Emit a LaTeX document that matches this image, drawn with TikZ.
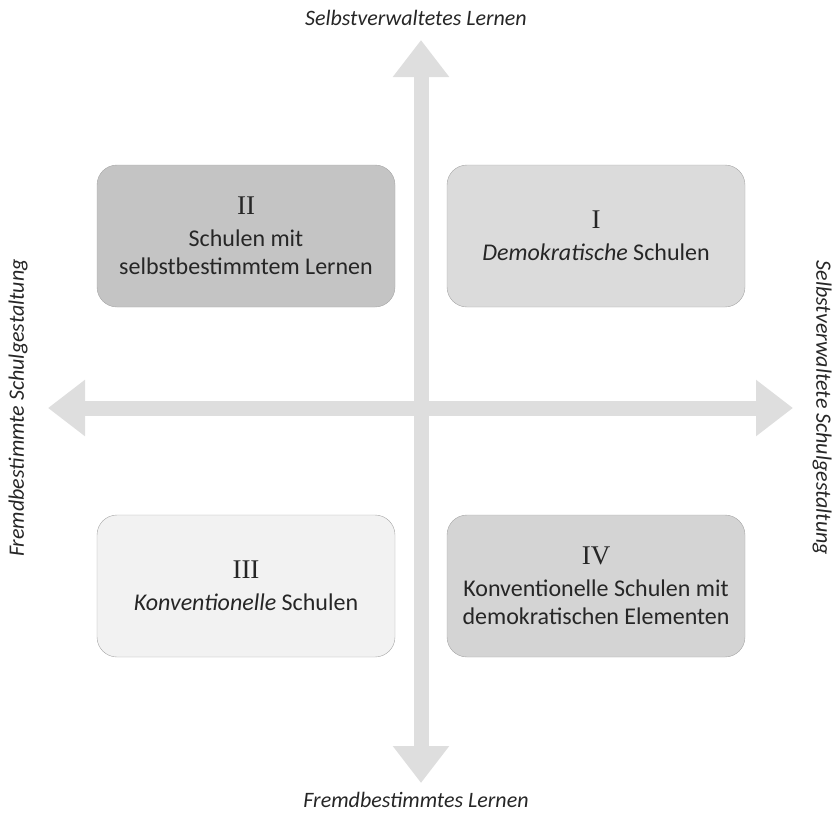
\documentclass[tikz,border=0pt]{standalone}
\usepackage{fontspec}
\setmainfont{Carlito}
\newfontfamily\numfont{Liberation Serif}
\usetikzlibrary{positioning, arrows.meta}

\begin{document}
\begin{tikzpicture}[x=1pt, y=-1pt,
  quadrant/.style={draw=black!35, rounded corners=20pt, minimum width=298pt, minimum height=142pt,
    align=center, inner sep=0pt, outer sep=0pt, text=black!85, font=\fontsize{24}{28}\selectfont},
  axis/.style={line width=15pt, draw=black!13,
    {Triangle[width=54pt,length=37pt]}-{Triangle[width=54pt,length=37pt]}},
  axislabel/.style={font=\fontsize{22}{26}\selectfont\itshape, text=black!85}]
            \useasboundingbox (0,0) rectangle (834,814);

            \coordinate (cross) at (421,408);
            \coordinate (top) at (421,40);
            \coordinate (bottom) at (421,783);
            \coordinate (left) at (48,408);
            \coordinate (right) at (793,408);

            % the two axes
            \draw[axis] (bottom) -- (top);
            \draw[axis] (left) -- (right);

            \node[quadrant, fill=black!23, above left=101pt and 26pt of cross] (q2)
            {{\numfont\fontsize{27}{30}\selectfont II}\\[4pt] Schulen mit\\ selbstbestimmtem Lernen};
            \node[quadrant, fill=black!14, above right=101pt and 26pt of cross] (q1)
            {{\numfont\fontsize{27}{30}\selectfont I}\\[4pt] \textit{Demokratische} Schulen};
            \node[quadrant, fill=black!5, below left=107pt and 26pt of cross] (q3)
            {{\numfont\fontsize{27}{30}\selectfont III}\\[4pt] \textit{Konventionelle} Schulen};
            \node[quadrant, fill=black!17, below right=107pt and 26pt of cross] (q4)
            {{\numfont\fontsize{27}{30}\selectfont IV}\\[4pt] Konventionelle Schulen mit\\ demokratischen Elementen};

            % axis labels
            \node[axislabel] (lernenoben) at (416,18) {Selbstverwaltetes Lernen};
            \node[axislabel] (lernenunten) at (416,800) {Fremdbestimmtes Lernen};
            \node[axislabel, rotate=90] (gestaltlinks) at (18,408) {Fremdbestimmte Schulgestaltung};
            \node[axislabel, rotate=-90] (gestaltrechts) at (822,408) {Selbstverwaltete Schulgestaltung};
\end{tikzpicture}
\end{document}
